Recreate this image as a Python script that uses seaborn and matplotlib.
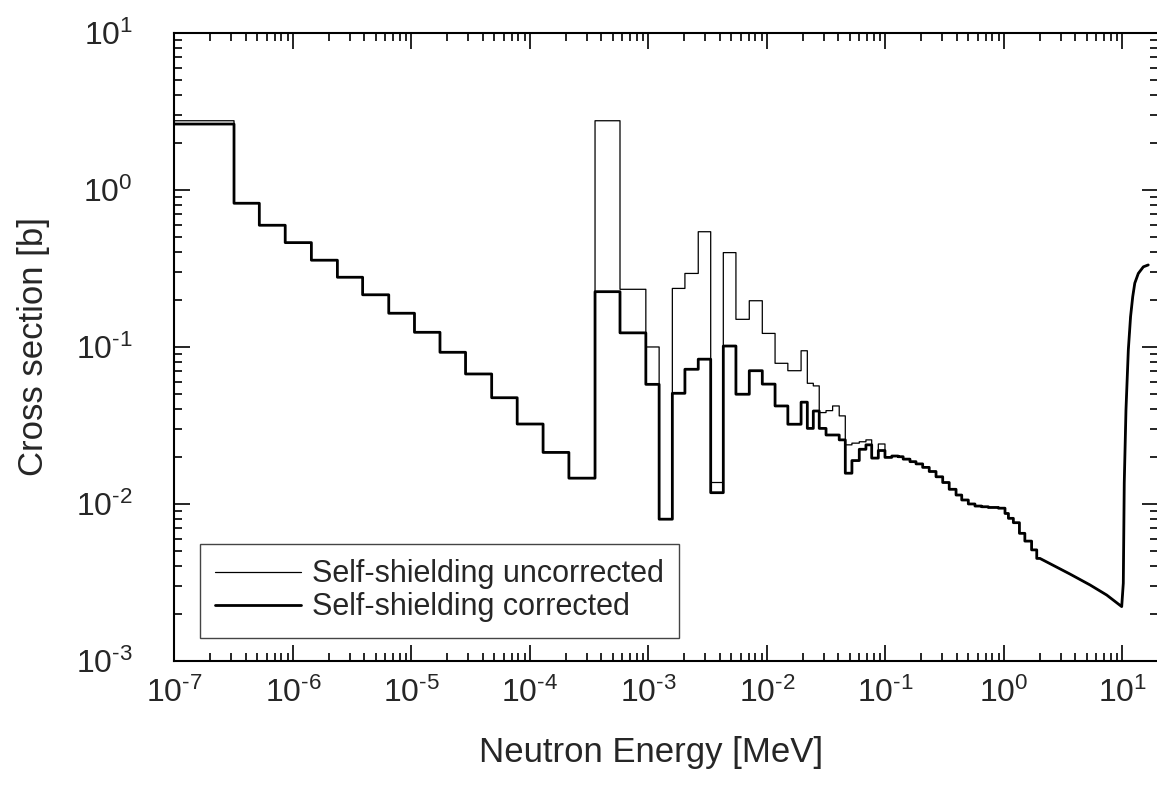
import numpy as np
import pandas as pd
import matplotlib
matplotlib.use('Agg')
import matplotlib.pyplot as plt
from matplotlib.lines import Line2D
from matplotlib.ticker import LogLocator, NullFormatter, FuncFormatter
import seaborn as sns

# group boundaries [MeV]
group_edges = [1.0e-7, 3.18e-7, 5.2e-7, 8.6e-7, 1.43e-6, 2.37e-6, 3.87e-6, 6.43e-6,
               1.06e-5, 1.74e-5, 2.86e-5, 4.75e-5, 7.8e-5, 1.29e-4, 2.13e-4, 3.54e-4,
               5.75e-4, 9.5e-4, 1.23e-3, 1.59e-3, 2.03e-3, 2.63e-3, 3.35e-3, 4.28e-3,
               5.47e-3, 7.09e-3, 9.13e-3, 1.17e-2, 1.50e-2, 1.94e-2, 2.19e-2, 2.46e-2,
               2.76e-2, 3.15e-2, 3.58e-2, 4.07e-2, 4.58e-2, 5.21e-2, 6.01e-2, 6.84e-2,
               7.65e-2, 8.70e-2, 9.9e-2, 0.113, 0.128, 0.141, 0.161, 0.181, 0.206,
               0.234, 0.267, 0.304, 0.345, 0.394, 0.440, 0.500, 0.569, 0.648, 0.738,
               0.896, 1.02, 1.09, 1.20, 1.35, 1.50, 1.71, 1.89, 2.01]

# group cross sections [b]
sigma_corrected = [2.63, 0.823, 0.596, 0.462, 0.357, 0.278, 0.215, 0.164, 0.124, 0.0925,
                   0.0673, 0.0475, 0.0323, 0.0213, 0.0146, 0.225, 0.123, 0.0578, 0.0080,
                   0.0507, 0.0721, 0.0836, 0.0118, 0.1014, 0.050, 0.0706, 0.058, 0.0421,
                   0.0322, 0.0445, 0.0303, 0.0391, 0.0303, 0.0275, 0.0275, 0.0256, 0.0157,
                   0.0189, 0.0223, 0.0238, 0.0196, 0.0219, 0.0198, 0.0202, 0.0200, 0.0193,
                   0.0186, 0.0180, 0.0171, 0.0161, 0.0149, 0.0137, 0.0124, 0.0114, 0.0106,
                   0.0100, 0.0097, 0.0096, 0.0095, 0.0094, 0.0087, 0.0081, 0.0076, 0.0065,
                   0.0058, 0.0051, 0.0045]

sigma_uncorrected = [2.76, 0.823, 0.596, 0.462, 0.357, 0.278, 0.215, 0.164, 0.124, 0.0925,
                     0.0673, 0.0475, 0.0323, 0.0213, 0.0146, 2.76, 0.233, 0.100, 0.0080,
                     0.236, 0.294, 0.542, 0.0137, 0.399, 0.150, 0.197, 0.122, 0.0787,
                     0.0706, 0.0946, 0.0587, 0.0565, 0.0382, 0.0393, 0.0421, 0.0364, 0.0238,
                     0.0244, 0.0249, 0.0256, 0.0196, 0.0241, 0.0198, 0.0202, 0.0200, 0.0193,
                     0.0186, 0.0180, 0.0171, 0.0161, 0.0149, 0.0137, 0.0124, 0.0114, 0.0106,
                     0.0100, 0.0097, 0.0096, 0.0095, 0.0094, 0.0087, 0.0081, 0.0076, 0.0065,
                     0.0058, 0.0051, 0.0045]

# fine-group continuum above 2 MeV, same for both
tail_energy = [3.6, 5.32, 7.36, 9.85, 10.16, 10.35, 10.7, 11.2, 11.7, 12.2, 12.7, 13.6, 15.0, 16.5]
tail_sigma = [0.00358, 0.00305, 0.00263, 0.00222, 0.00313, 0.0136, 0.0397, 0.0957, 0.156,
              0.209, 0.255, 0.294, 0.324, 0.333]


def staircase(edges, values):
    xs, ys = [], []
    for i, v in enumerate(values):
        xs += [edges[i], edges[i + 1]]
        ys += [v, v]
    xs += tail_energy
    ys += tail_sigma
    return pd.DataFrame({'E': xs, 'sigma': ys})


def pow10(v, pos):
    e = int(round(np.log10(v)))
    s = str(e).replace('-', '\u2010')
    return '$10^{%s}$' % s


df_unc = staircase(group_edges, sigma_uncorrected)
df_cor = staircase(group_edges, sigma_corrected)

sns.set_style('ticks')
plt.rcParams['font.family'] = ['Liberation Sans', 'DejaVu Sans']
plt.rcParams['mathtext.default'] = 'regular'

fig = plt.figure(figsize=(11.57, 7.85), dpi=100)
ax = fig.add_axes([0.1508, 0.158, 0.8502, 0.8])

sns.lineplot(data=df_unc, x='E', y='sigma', sort=False, estimator=None,
             color='black', lw=0.9, ax=ax)
sns.lineplot(data=df_cor, x='E', y='sigma', sort=False, estimator=None,
             color='black', lw=2.0, ax=ax)

ax.set_xscale('log')
ax.set_yscale('log')
ax.set_xlim(1e-7, 20)
ax.set_ylim(1e-3, 10)

for axis in (ax.xaxis, ax.yaxis):
    axis.set_major_locator(LogLocator(base=10, numticks=20))
    axis.set_minor_locator(LogLocator(base=10, subs=np.arange(2, 10), numticks=20))
    axis.set_major_formatter(FuncFormatter(pow10))
    axis.set_minor_formatter(NullFormatter())

ax.tick_params(which='both', direction='in', top=True, right=True, color='black')
ax.tick_params(which='major', length=11.5, width=1.2, labelsize=23)
ax.tick_params(which='minor', length=5.8, width=1.2)
ax.tick_params(axis='x', which='major', pad=12)
ax.tick_params(axis='y', which='major', pad=30)
for s in ax.spines.values():
    s.set_linewidth(1.5)
    s.set_color('black')

ax.set_xlabel('Neutron Energy [MeV]', fontsize=25)
ax.set_ylabel('Cross section [b]', fontsize=25)
ax.xaxis.set_label_coords(0.484, -0.12)
ax.yaxis.set_label_coords(-0.127, 0.5)

handles = [Line2D([], [], color='black', lw=0.9), Line2D([], [], color='black', lw=2.0)]
leg = ax.legend(handles, ['Self-shielding uncorrected', 'Self-shielding corrected'],
                loc='lower left', bbox_to_anchor=(0.026, 0.037), borderaxespad=0,
                fontsize=22, handlelength=2.8, handletextpad=0.35, borderpad=0.5,
                labelspacing=0.1, fancybox=False, framealpha=1)
leg.get_frame().set_edgecolor('#444444')
leg.get_frame().set_linewidth(1.0)

fig.savefig('out.png', dpi=100)
